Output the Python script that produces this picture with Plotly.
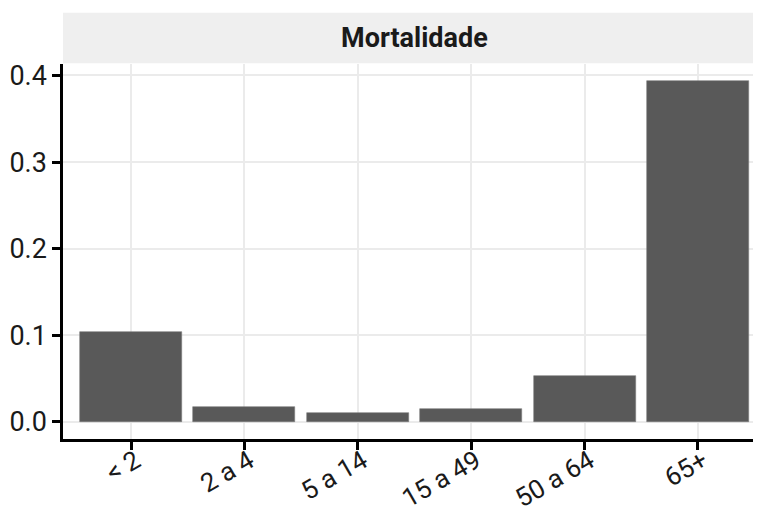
import plotly.graph_objects as go

categories = ["< 2", "2 a 4", "5 a 14", "15 a 49", "50 a 64", "65+"]
mortalidade = [0.1036, 0.0168, 0.0099, 0.0150, 0.0529, 0.3935]
y_ticks = [0.0, 0.1, 0.2, 0.3, 0.4]
y_tick_labels = ["0.0", "0.1", "0.2", "0.3", "0.4"]
strip_title = "Mortalidade"

ymax = max(mortalidade)
pad = 0.05 * ymax
n = len(categories)

# page body has an 8px default margin; compensate in figure size/margins
fig = go.Figure()
fig.add_trace(go.Bar(
    x=list(range(n)),
    y=mortalidade,
    width=0.9,
    marker=dict(color="#595959", line=dict(color="#7a7a7a", width=0.6)),
    showlegend=False,
))

fig.update_layout(
    width=753, height=504,
    margin=dict(l=55, r=0, t=56, b=73, pad=0),
    paper_bgcolor="white",
    plot_bgcolor="white",
    font=dict(family="Roboto", size=27, color="#1a1a1a"),
    bargap=0,
    xaxis=dict(
        range=[-0.6, 5.556],
        tickmode="array",
        tickvals=list(range(n)),
        ticktext=categories,
        tickangle=-30,
        ticklabelstandoff=-14,
        ticklabelshift=5,
        showgrid=True, gridcolor="#ebebeb", gridwidth=1.6,
        showline=True, linecolor="black", linewidth=2.5,
        ticks="outside", ticklen=8, tickwidth=2.5, tickcolor="black",
        tickfont=dict(family="Roboto", size=26, color="#1a1a1a"),
        zeroline=False, automargin=False,
    ),
    yaxis=dict(
        range=[-pad, ymax + pad],
        tickmode="array",
        tickvals=y_ticks,
        ticktext=y_tick_labels,
        showgrid=True, gridcolor="#ebebeb", gridwidth=1.6,
        showline=True, linecolor="black", linewidth=2.5,
        ticks="outside", ticklen=8, tickwidth=2.5, tickcolor="black",
        tickfont=dict(family="Roboto", size=27, color="#1a1a1a"),
        zeroline=False, automargin=False,
    ),
    shapes=[dict(
        type="rect", xref="paper", yref="paper",
        x0=0, x1=1, y0=1.002, y1=1.137,
        fillcolor="#efefef", line=dict(width=0), layer="below",
    )],
    annotations=[dict(
        text="<b>" + strip_title + "</b>",
        xref="x", yref="paper",
        x=2.5, y=1.0685, xanchor="center", yanchor="middle",
        showarrow=False,
        font=dict(family="Roboto", size=27, color="#1a1a1a"),
    )],
)

fig.write_html("out.html")
